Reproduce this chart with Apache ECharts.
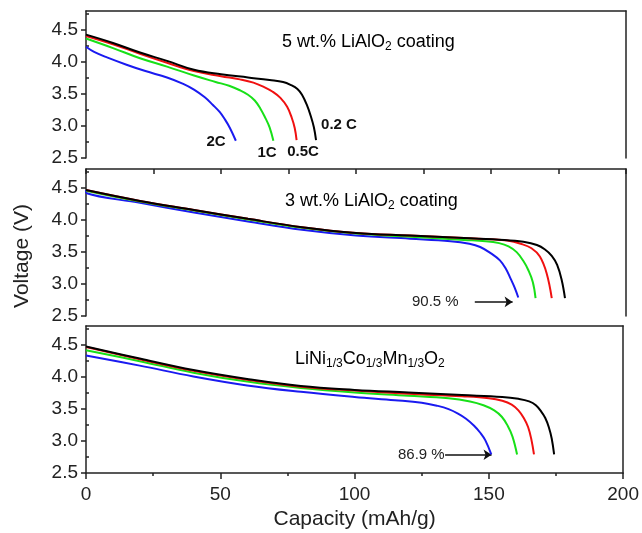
<!DOCTYPE html>
<html>
<head>
<meta charset="utf-8">
<script src="https://cdn.jsdelivr.net/npm/echarts@6.0.0/dist/echarts.min.js"></script>
<style>
  html, body {margin: 0; padding: 0; background: #fff;}
  #chart {width: 642px; height: 533px;}
</style>
</head>
<body>
<div id="chart"></div>
<script>
// capacity (mAh/g), voltage (V)
const p1Black = [[0, 4.43], [10, 4.30], [20, 4.15], [30, 4.02], [40, 3.88], [50, 3.81], [60, 3.76], [68, 3.72], [73, 3.69], [76, 3.64], [78.3, 3.58], [80, 3.49], [81.8, 3.33], [83.3, 3.15], [84.4, 2.98], [85.2, 2.78]];
const p1Red = [[0, 4.41], [10, 4.28], [20, 4.13], [30, 3.99], [40, 3.86], [50, 3.78], [57, 3.73], [62, 3.68], [66, 3.61], [69, 3.54], [72, 3.44], [74.5, 3.30], [76.2, 3.13], [77.3, 2.97], [78, 2.78]];
const p1Green = [[0, 4.37], [10, 4.22], [20, 4.06], [30, 3.93], [40, 3.79], [48, 3.69], [53, 3.63], [57, 3.56], [60, 3.49], [62.5, 3.40], [64.5, 3.28], [66.5, 3.12], [68, 2.98], [69.4, 2.77]];
const p1Blue = [[0, 4.24], [3, 4.16], [8, 4.07], [15, 3.96], [22, 3.86], [30, 3.76], [36, 3.66], [40, 3.57], [44, 3.45], [47, 3.33], [49.5, 3.22], [51.5, 3.10], [53.3, 2.97], [55.5, 2.77]];

const p2Black = [[0, 4.47], [20, 4.30], [40, 4.16], [60, 4.02], [80, 3.89], [100, 3.80], [120, 3.76], [140, 3.72], [155, 3.69], [162, 3.66], [167, 3.61], [170, 3.54], [172.5, 3.44], [174.5, 3.30], [176.2, 3.06], [177.4, 2.78]];
const p2Red = [[0, 4.47], [20, 4.30], [40, 4.16], [60, 4.02], [80, 3.89], [100, 3.80], [120, 3.76], [140, 3.72], [150, 3.70], [156, 3.68], [161, 3.63], [165, 3.56], [168.1, 3.43], [170.6, 3.17], [172.5, 2.78]];
const p2Green = [[0, 4.46], [20, 4.29], [40, 4.15], [60, 4.01], [80, 3.88], [100, 3.79], [120, 3.74], [140, 3.69], [148, 3.67], [153, 3.64], [156.5, 3.59], [159.5, 3.50], [162, 3.36], [163.8, 3.22], [165.5, 3.03], [166.5, 2.78]];
const p2Blue = [[0, 4.47], [0.3, 4.42], [20, 4.27], [40, 4.12], [60, 3.98], [80, 3.85], [100, 3.76], [120, 3.71], [135, 3.67], [142, 3.63], [146, 3.58], [150, 3.48], [153.3, 3.37], [155.5, 3.24], [157.3, 3.08], [158.8, 2.94], [160.1, 2.79]];

const p3Black = [[0, 4.48], [20, 4.29], [40, 4.11], [60, 3.97], [80, 3.86], [100, 3.80], [120, 3.76], [140, 3.72], [155, 3.69], [161, 3.66], [165, 3.62], [167.5, 3.56], [169.5, 3.46], [171, 3.36], [172.3, 3.22], [173.4, 3.04], [174.3, 2.79]];
const p3Red = [[0, 4.47], [20, 4.28], [40, 4.10], [60, 3.96], [80, 3.85], [100, 3.79], [120, 3.74], [140, 3.70], [150, 3.67], [155, 3.63], [158.5, 3.57], [161, 3.48], [163, 3.36], [164.6, 3.22], [165.8, 3.03], [166.8, 2.79]];
const p3Green = [[0, 4.42], [20, 4.25], [40, 4.07], [60, 3.93], [80, 3.83], [100, 3.76], [120, 3.71], [135, 3.67], [143, 3.62], [148, 3.56], [152, 3.48], [154.8, 3.38], [157, 3.24], [158.8, 3.07], [160.5, 2.79]];
const p3Blue = [[0, 4.34], [20, 4.18], [40, 4.01], [60, 3.87], [80, 3.77], [100, 3.69], [115, 3.64], [125, 3.60], [131, 3.55], [135, 3.50], [138.5, 3.43], [141.5, 3.35], [144.5, 3.24], [146.8, 3.13], [148.7, 3.01], [150.9, 2.79]];

const yMajor = [2.5, 3.0, 3.5, 4.0, 4.5];
const yMinor = [2.75, 3.25, 3.75, 4.25, 4.75];

const panels = [
  [p1Black, p1Red, p1Green, p1Blue],
  [p2Black, p2Red, p2Green, p2Blue],
  [p3Black, p3Red, p3Green, p3Blue]
];
const colors = ['#000000', '#f01010', '#18e018', '#1a1af0'];

const font = "'Liberation Sans', Arial, sans-serif";
const axisColor = '#222';

const grids = [];
const xAxes = [];
const yAxes = [];
const series = [];
const tops = [11, 169, 326];

tops.forEach((top, i) => {
  grids.push({left: 86, top: top, width: 540, height: 147});
  const isLast = i === 2;
  // bottom axis, carries the data
  xAxes.push({
    type: 'value', gridIndex: i, min: 0, max: 200, interval: 50,
    show: isLast,
    axisLine: {show: true, onZero: false, lineStyle: {color: axisColor, width: 1.5}},
    axisTick: {show: true, length: 6, lineStyle: {color: axisColor, width: 1.5}},
    minorTick: {show: true, splitNumber: 2, length: 3, lineStyle: {color: axisColor, width: 1.5}},
    axisLabel: {show: true, fontSize: 19, color: '#222', fontFamily: font, margin: 12},
    splitLine: {show: false},
    name: isLast ? 'Capacity (mAh/g)' : '',
    nameLocation: 'middle', nameGap: 36,
    nameTextStyle: {fontSize: 21, color: '#222', fontFamily: font}
  });
  // top frame
  xAxes.push({
    type: 'value', gridIndex: i, min: 0, max: 200, interval: 25, position: 'top',
    axisLine: {show: true, onZero: false, lineStyle: {color: axisColor, width: 1.5}},
    axisTick: {show: i === 1, inside: true, length: 5, lineStyle: {color: axisColor, width: 1.5}},
    axisLabel: {show: false},
    splitLine: {show: false}
  });
  yAxes.push({
    type: 'value', gridIndex: i, min: 2.5, max: 4.8,
    axisLine: {show: true, onZero: false, lineStyle: {color: axisColor, width: 1.5}},
    axisTick: {show: true, length: 5, customValues: yMajor, lineStyle: {color: axisColor, width: 1.5}},
    axisLabel: {
      show: true, customValues: yMajor, fontSize: 19, color: '#222', fontFamily: font, margin: 8,
      formatter: (v) => v.toFixed(1)
    },
    splitLine: {show: false}
  });
  // minor ticks
  yAxes.push({
    type: 'value', gridIndex: i, min: 2.5, max: 4.8,
    axisLine: {show: false},
    axisTick: {show: true, length: 3, customValues: yMinor, lineStyle: {color: axisColor, width: 1.5}},
    axisLabel: {show: false},
    splitLine: {show: false}
  });
  // right frame
  yAxes.push({
    type: 'value', gridIndex: i, min: 2.5, max: 4.8, position: 'right',
    axisLine: {show: true, onZero: false, lineStyle: {color: axisColor, width: 1.5}},
    axisTick: {show: false},
    axisLabel: {show: false},
    splitLine: {show: false}
  });

  panels[i].forEach((data, k) => {
    series.push({
      type: 'line',
      xAxisIndex: i * 2,
      yAxisIndex: i * 3,
      data: data,
      symbol: 'none',
      smooth: 0.4,
      lineStyle: {color: colors[k], width: 2},
      z: 10 - k
    });
  });
});

// arrows pointing at the 2C curves
series[7].markLine = {
  silent: true, symbol: ['none', 'arrow'], symbolSize: 8,
  label: {show: false},
  lineStyle: {color: '#111', width: 1.5, type: 'solid'},
  data: [[{coord: [144, 2.72]}, {coord: [158, 2.72]}]]
};
series[11].markLine = {
  silent: true, symbol: ['none', 'arrow'], symbolSize: 8,
  label: {show: false},
  lineStyle: {color: '#111', width: 1.5, type: 'solid'},
  data: [[{coord: [133.7, 2.785]}, {coord: [151, 2.785]}]]
};

const rich = {
  n: {fontSize: 18, lineHeight: 22, fontFamily: font, color: '#222'},
  s: {fontSize: 12, lineHeight: 12, fontFamily: font, color: '#222', verticalAlign: 'bottom'}
};
const rateStyle = {fontSize: 15, fontWeight: 'bold', fontFamily: font, fill: '#111'};
const pctStyle = {fontSize: 15, fontFamily: font, fill: '#222'};

const graphic = [
  {type: 'text', x: 22, y: 256, rotation: Math.PI / 2,
    style: {text: 'Voltage (V)', fontSize: 21, fontFamily: font, fill: '#222', align: 'center', verticalAlign: 'middle'}},
  {type: 'text', x: 282, y: 42, style: {text: '{n|5 wt.% LiAlO}{s|2}{n| coating}', rich: rich, verticalAlign: 'middle'}},
  {type: 'text', x: 285, y: 201, style: {text: '{n|3 wt.% LiAlO}{s|2}{n| coating}', rich: rich, verticalAlign: 'middle'}},
  {type: 'text', x: 295, y: 359, style: {text: '{n|LiNi}{s|1/3}{n|Co}{s|1/3}{n|Mn}{s|1/3}{n|O}{s|2}', rich: rich, verticalAlign: 'middle'}},
  {type: 'text', x: 216, y: 142, style: Object.assign({text: '2C', align: 'center', verticalAlign: 'middle'}, rateStyle)},
  {type: 'text', x: 267, y: 153, style: Object.assign({text: '1C', align: 'center', verticalAlign: 'middle'}, rateStyle)},
  {type: 'text', x: 303, y: 152, style: Object.assign({text: '0.5C', align: 'center', verticalAlign: 'middle'}, rateStyle)},
  {type: 'text', x: 339, y: 125, style: Object.assign({text: '0.2 C', align: 'center', verticalAlign: 'middle'}, rateStyle)},
  {type: 'text', x: 412, y: 302, style: Object.assign({text: '90.5 %', verticalAlign: 'middle'}, pctStyle)},
  {type: 'text', x: 398, y: 455, style: Object.assign({text: '86.9 %', verticalAlign: 'middle'}, pctStyle)}
];

const chart = echarts.init(document.getElementById('chart'));
chart.setOption({
  animation: false,
  backgroundColor: '#fff',
  grid: grids,
  xAxis: xAxes,
  yAxis: yAxes,
  series: series,
  graphic: graphic
});
</script>
</body>
</html>
